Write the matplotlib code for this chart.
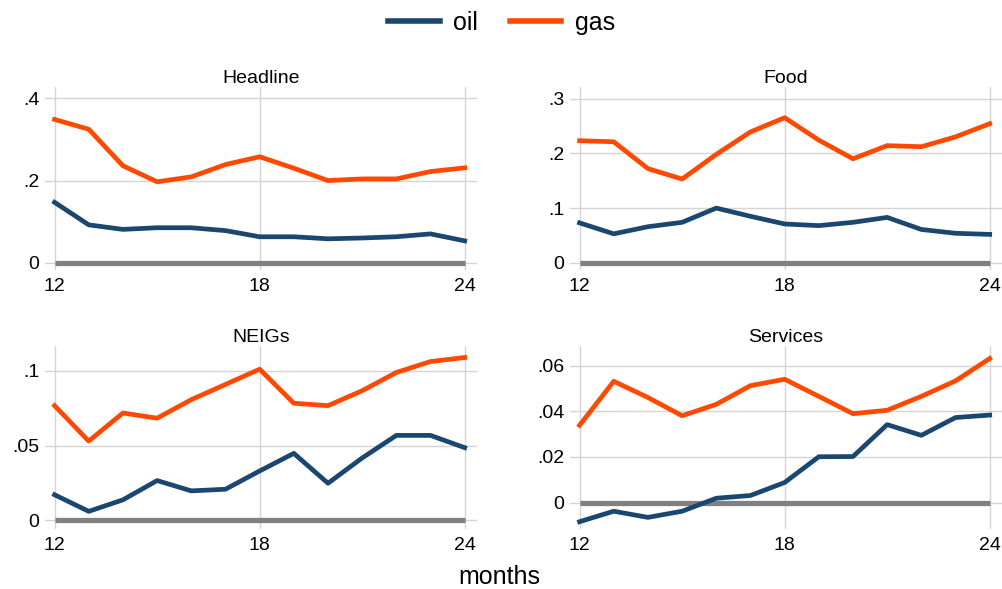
import matplotlib
matplotlib.use("Agg")
import matplotlib.pyplot as plt
from matplotlib.lines import Line2D

plt.rcParams['font.family'] = ['Liberation Sans', 'DejaVu Sans']

months = list(range(12, 25))

headline_oil = [0.147, 0.092, 0.081, 0.085, 0.085, 0.078, 0.063, 0.063, 0.058, 0.060, 0.063, 0.070, 0.053]
headline_gas = [0.349, 0.325, 0.236, 0.197, 0.209, 0.239, 0.258, 0.230, 0.200, 0.204, 0.204, 0.222, 0.231]

food_oil = [0.073, 0.053, 0.066, 0.074, 0.100, 0.085, 0.071, 0.068, 0.074, 0.083, 0.061, 0.054, 0.052]
food_gas = [0.223, 0.221, 0.172, 0.153, 0.198, 0.239, 0.265, 0.224, 0.190, 0.214, 0.212, 0.230, 0.254]

neigs_oil = [0.0171, 0.0060, 0.0137, 0.0266, 0.0197, 0.0208, 0.0330, 0.0448, 0.0248, 0.0417, 0.0568, 0.0568, 0.0486]
neigs_gas = [0.0767, 0.0530, 0.0718, 0.0683, 0.0807, 0.0909, 0.1011, 0.0783, 0.0767, 0.0867, 0.0989, 0.1062, 0.1089]

services_oil = [-0.0084, -0.0038, -0.0065, -0.0038, 0.0019, 0.0031, 0.0088, 0.0201, 0.0202, 0.0342, 0.0295, 0.0373, 0.0384]
services_gas = [0.0339, 0.0532, 0.0461, 0.0381, 0.0431, 0.0513, 0.0541, 0.0466, 0.0390, 0.0405, 0.0466, 0.0534, 0.0632]

panel_titles = ["Headline", "Food", "NEIGs", "Services"]
y_ticks = [[0, 0.2, 0.4], [0, 0.1, 0.2, 0.3], [0, 0.05, 0.1], [0, 0.02, 0.04, 0.06]]
y_tick_labels = [["0", ".2", ".4"], ["0", ".1", ".2", ".3"], ["0", ".05", ".1"], ["0", ".02", ".04", ".06"]]
y_limits = [(-0.018, 0.428), (-0.013, 0.321), (-0.0058, 0.1166), (-0.0116, 0.0687)]
x_ticks = [12, 18, 24]

series = [(headline_oil, headline_gas), (food_oil, food_gas),
          (neigs_oil, neigs_gas), (services_oil, services_gas)]

OIL = "#1a476f"
GAS = "#ff4800"
ZERO = "#808080"
GRID = "#d4d4d4"

fig = plt.figure(figsize=(10.03, 5.89), dpi=100)
W, H = 1003, 589
# axes rectangles in pixels: left, top, right, bottom
rects = [(45, 87, 477, 270), (570, 87, 1002, 270),
         (45, 346, 477, 529), (570, 346, 1002, 529)]

for i, (l, t, r, b) in enumerate(rects):
    ax = fig.add_axes([l / W, 1 - b / H, (r - l) / W, (b - t) / H])
    oil, gas = series[i]
    ax.set_xlim(11.72, 24.36)
    ax.set_ylim(*y_limits[i])
    ax.set_xticks(x_ticks)
    ax.set_yticks(y_ticks[i])
    ax.set_yticklabels(y_tick_labels[i])
    ax.grid(True, color=GRID, linewidth=1.0)
    ax.set_axisbelow(True)
    for s in ax.spines.values():
        s.set_visible(False)
    ax.tick_params(length=0, labelsize=14, pad=6)
    ax.tick_params(axis='y', pad=4)
    ax.plot([months[0], months[-1]], [0, 0], color=ZERO, linewidth=3.8,
            solid_capstyle='butt', zorder=2)
    ax.plot(months, oil, color=OIL, linewidth=3.4, zorder=3)
    ax.plot(months, gas, color=GAS, linewidth=3.4, zorder=3)
    ax.set_title(panel_titles[i], fontsize=14, pad=3)

handles = [Line2D([], [], color=OIL, linewidth=4),
           Line2D([], [], color=GAS, linewidth=4)]
fig.legend(handles, ["oil", "gas"], loc='center', bbox_to_anchor=(0.5, 1 - 23 / H),
           ncol=2, frameon=False, fontsize=18, handlelength=2.05,
           columnspacing=1.25, handletextpad=0.55)

fig.text(499 / W, 1 - 577 / H, "months", ha='center', va='center', fontsize=18)

fig.savefig("out.png", dpi=100)
